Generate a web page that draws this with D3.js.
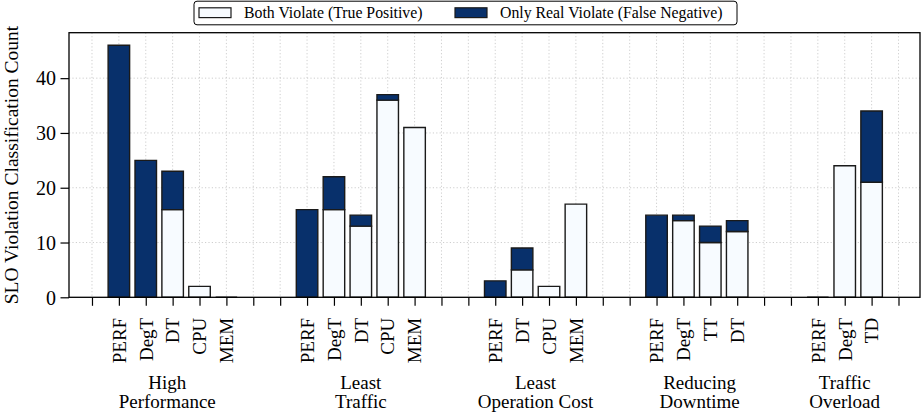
<!DOCTYPE html>
<html>
<head>
<meta charset="utf-8">
<script src="https://cdn.jsdelivr.net/npm/d3@7"></script>
<style>
  html, body { margin: 0; padding: 0; background: #fff; }
  svg { display: block; font-family: "Liberation Serif", "Times New Roman", serif; }
</style>
</head>
<body>
<svg id="chart" width="922" height="415"></svg>
<script>
// Scenario groups (two-line labels) and the metrics evaluated in each
const groupNames = [
  ["High", "Performance"],
  ["Least", "Traffic"],
  ["Least", "Operation Cost"],
  ["Reducing", "Downtime"],
  ["Traffic", "Overload"]
];
const metrics = [
  ["PERF", "DegT", "DT", "CPU", "MEM"],
  ["PERF", "DegT", "DT", "CPU", "MEM"],
  ["PERF", "DT", "CPU", "MEM"],
  ["PERF", "DegT", "TT", "DT"],
  ["PERF", "DegT", "TD"]
];
// Both Violate (True Positive)
const bothViolate = [
  [0, 0, 16, 2, 0],
  [0, 16, 13, 36, 31],
  [0, 5, 2, 17],
  [0, 14, 10, 12],
  [0, 24, 21]
];
// Only Real Violate (False Negative)
const onlyRealViolate = [
  [46, 25, 7, 0, 0],
  [16, 6, 2, 1, 0],
  [3, 4, 0, 0],
  [15, 1, 3, 2],
  [0, 0, 13]
];
const yTicks = [0, 10, 20, 30, 40];
// where each group's caption sits along the slot axis
const groupLabelAt = [2.8, 10, 16.5, 22.6, 28];

const FONT = '"Liberation Serif", "Times New Roman", serif';
const colTP = "#f7fbff", colFN = "#08306b", edge = "#1a1a1a";

// Lay out slots: one empty slot first, then each group followed by empty slots
const slots = [""];
const bars = [];
metrics.forEach((ms, g) => {
  ms.forEach((m, i) => {
    bars.push({ pos: slots.length, tp: bothViolate[g][i], fn: onlyRealViolate[g][i] });
    slots.push(m);
  });
  if (g < metrics.length - 1) slots.push("", "");
  else slots.push("");
});

const svg = d3.select("#chart");
const L = 69, R = 920, T = 32.7, B = 297.3;

const x = d3.scaleLinear().domain([-0.855, slots.length - 1 + 0.8]).range([L, R]);
const y = d3.scaleLinear().domain([0, 48.3]).range([B, T]);
const bw = (x(1) - x(0)) * 0.8;

// grid
const grid = svg.append("g").attr("stroke", "#c8c8c8").attr("stroke-width", 0.9)
  .attr("stroke-dasharray", "1.2,2.2");
grid.selectAll("line.v").data(d3.range(slots.length)).join("line")
  .attr("x1", d => x(d)).attr("x2", d => x(d)).attr("y1", T).attr("y2", B);
grid.selectAll("line.h").data(yTicks.slice(1)).join("line")
  .attr("x1", L).attr("x2", R).attr("y1", d => y(d)).attr("y2", d => y(d));

// bars drawn as paths so zero-height bars still show their outline
function box(x0, x1, y0, y1) {
  return `M${x0},${y0}H${x1}V${y1}H${x0}Z`;
}
const bg = svg.append("g").attr("stroke", edge).attr("stroke-width", 1.4);
bg.selectAll("path.tp").data(bars).join("path")
  .attr("fill", colTP)
  .attr("d", d => box(x(d.pos) - bw / 2, x(d.pos) + bw / 2, y(0), y(d.tp)));
bg.selectAll("path.fn").data(bars.filter(d => d.fn > 0)).join("path")
  .attr("fill", colFN)
  .attr("d", d => box(x(d.pos) - bw / 2, x(d.pos) + bw / 2, y(d.tp), y(d.tp + d.fn)));

// axes
const xAxis = d3.axisBottom(x).tickValues(d3.range(slots.length)).tickFormat(d => slots[d])
  .tickSize(8.5).tickSizeOuter(0);
const gx = svg.append("g").attr("transform", `translate(0,${B})`).call(xAxis)
  .attr("font-family", FONT);
gx.select(".domain").remove();
gx.selectAll(".tick line").attr("stroke", "#000").attr("stroke-width", 1.2);
gx.selectAll(".tick text")
  .attr("font-size", 19).attr("fill", "#000")
  .attr("transform", "rotate(-90)")
  .attr("x", -20.5).attr("y", 0).attr("dy", "0.33em")
  .attr("text-anchor", "end");

const yAxis = d3.axisLeft(y).tickValues(yTicks).tickSize(8.5).tickSizeOuter(0);
const gy = svg.append("g").attr("transform", `translate(${L},0)`).call(yAxis)
  .attr("font-family", FONT);
gy.select(".domain").remove();
gy.selectAll(".tick line").attr("stroke", "#000").attr("stroke-width", 1.2);
gy.selectAll(".tick text").attr("font-size", 20).attr("fill", "#000").attr("x", -13).attr("dy", "0.34em");

// frame
svg.append("rect").attr("x", L).attr("y", T).attr("width", R - L).attr("height", B - T)
  .attr("fill", "none").attr("stroke", "#000").attr("stroke-width", 1.3);

// y label
svg.append("text").attr("transform", `translate(18,${(T + B) / 2}) rotate(-90)`)
  .attr("text-anchor", "middle").attr("font-size", 19.5).attr("fill", "#000")
  .text("SLO Violation Classification Count");

// group captions
const cap = svg.append("g").attr("font-size", 19).attr("fill", "#000").attr("text-anchor", "middle");
groupNames.forEach((lines, g) => {
  const t = cap.append("text").attr("x", x(groupLabelAt[g])).attr("y", 388.5);
  lines.forEach((s, i) => t.append("tspan").attr("x", x(groupLabelAt[g])).attr("dy", i ? 19 : 0).text(s));
});

// legend
const lg = svg.append("g").attr("transform", "translate(194,1.2)");
lg.append("rect").attr("width", 543).attr("height", 23.6).attr("rx", 3)
  .attr("fill", "#fff").attr("stroke", "#000").attr("stroke-width", 1);
const items = [
  { label: "Both Violate (True Positive)", color: colTP, dx: 5 },
  { label: "Only Real Violate (False Negative)", color: colFN, dx: 261 }
];
items.forEach(it => {
  const g = lg.append("g").attr("transform", `translate(${it.dx},0)`);
  g.append("rect").attr("x", 0).attr("y", 6.6).attr("width", 32).attr("height", 9.8)
    .attr("fill", it.color).attr("stroke", edge).attr("stroke-width", 1.2);
  g.append("text").attr("x", 45).attr("y", 17.3).attr("font-size", 15.8).attr("fill", "#000").text(it.label);
});
</script>
</body>
</html>
